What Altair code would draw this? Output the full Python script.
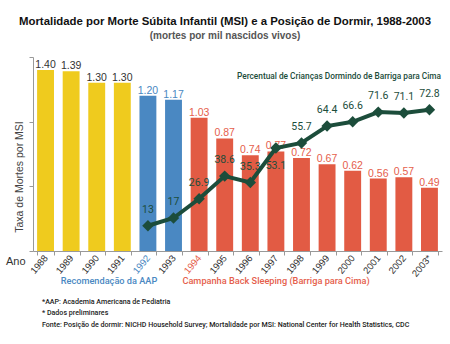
import altair as alt
import pandas as pd

years = ["1988", "1989", "1990", "1991", "1992", "1993", "1994", "1995",
         "1996", "1997", "1998", "1999", "2000", "2001", "2002", "2003*"]
rates = [1.40, 1.39, 1.30, 1.30, 1.20, 1.17, 1.03, 0.87,
         0.74, 0.77, 0.72, 0.67, 0.62, 0.56, 0.57, 0.49]
groups = ["antes"] * 4 + ["aap"] * 2 + ["campanha"] * 10
pct_years = years[4:]
pct_values = [13, 17, 26.9, 38.6, 35.3, 53.1, 55.7, 64.4, 66.6, 71.6, 71.1, 72.8]

group_domain = ["antes", "aap", "campanha"]
bar_colors = ["#EFCB1E", "#4A88C2", "#E25B44"]
label_colors = ["#333333", "#4A88C2", "#E5604C"]
GREEN = "#1C4D3B"
NARROW = "Roboto, sans-serif"
SANS = "Liberation Sans, Arial, sans-serif"

bars_df = pd.DataFrame({"ano": years, "taxa": rates, "grupo": groups})
pct_df = pd.DataFrame({"ano": pct_years, "pct": pct_values})

xenc = alt.X("ano:N", sort=years,
             scale=alt.Scale(paddingInner=0.34, paddingOuter=0.16),
             axis=alt.Axis(title=None, labelAngle=-50, labelFont=SANS, labelFontSize=9.5,
                           labelColor=alt.ExprRef(expr="datum.value == '1992' ? '#4A88C2' : (datum.value == '1994' ? '#E5604C' : '#333333')"),
                           domainColor="#999999", tickColor="#999999", tickSize=4,
                           tickBand="extent", labelPadding=1))

bars = alt.Chart(bars_df).mark_bar().encode(
    x=xenc,
    y=alt.Y("taxa:Q", scale=alt.Scale(domain=[0, 1.5], nice=False),
            axis=alt.Axis(title=None, labels=False, values=[0, 0.5, 1.0, 1.5], grid=False,
                          domainColor="#999999", tickColor="#999999", tickSize=4)),
    color=alt.Color("grupo:N", scale=alt.Scale(domain=group_domain, range=bar_colors), legend=None),
)

bar_labels = alt.Chart(bars_df).mark_text(dy=-5, font=SANS, fontSize=10.5).encode(
    x=alt.X("ano:N", sort=years),
    y=alt.Y("taxa:Q"),
    text=alt.Text("taxa:Q", format=".2f"),
    color=alt.Color("grupo:N", scale=alt.Scale(domain=group_domain, range=label_colors), legend=None),
)

bar_layer = alt.layer(bars, bar_labels).resolve_scale(color="independent")

yp = alt.Y("pct:Q", scale=alt.Scale(domain=[0, 100], nice=False), axis=None)
line = alt.Chart(pct_df).mark_line(color=GREEN, strokeWidth=4).encode(
    x=alt.X("ano:N", sort=years), y=yp)
points = alt.Chart(pct_df).mark_point(shape="diamond", filled=True, size=130, color=GREEN, opacity=1).encode(
    x=alt.X("ano:N", sort=years), y=yp)
pct_labels_up = alt.Chart(pct_df).transform_filter("datum.pct != 53.1").mark_text(
    dy=-16, font=NARROW, fontSize=10.5, color=GREEN).encode(
    x=alt.X("ano:N", sort=years), y=yp, text="pct:Q")
pct_labels_down = alt.Chart(pct_df).transform_filter("datum.pct == 53.1").mark_text(
    dy=18, font=NARROW, fontSize=10.5, color=GREEN).encode(
    x=alt.X("ano:N", sort=years), y=yp, text="pct:Q")

line_layer = alt.layer(line, points, pct_labels_up, pct_labels_down)

one = alt.Data(values=[{}])

def note(text, x, y, size, color, font, weight="normal", align="center", angle=0):
    return alt.Chart(one).mark_text(text=text, fontSize=size, color=color, font=font,
                                    fontWeight=weight, align=align, baseline="middle",
                                    angle=angle).encode(x=alt.value(x), y=alt.value(y))

notes = [
    note("Mortalidade por Morte Súbita Infantil (MSI) e a Posição de Dormir, 1988-2003",
         192, -35, 11.4, "#111111", SANS, "bold"),
    note("(mortes por mil nascidos vivos)", 192, -21, 10, "#555555", SANS, "bold"),
    note("Taxa de Mortes por MSI", -13, 120, 10.5, "#444444", SANS, angle=270),
    note("Ano", -27, 205, 11, "#333333", SANS, align="left"),
    note("Percentual de Crianças Dormindo de Barriga para Cima", 306, 20, 8.3, GREEN, NARROW, 500),
    note("Recomendação da AAP", 76, 224, 9.2, "#4A88C2", NARROW, 500),
    note("Campanha Back Sleeping (Barriga para Cima)", 243, 224, 9.2, "#E5604C", NARROW, 500),
    note("*AAP: Academia Americana de Pediatria", 9, 245, 7.1, "#222222", NARROW, 500, align="left"),
    note("* Dados preliminares", 9, 256, 7.1, "#222222", NARROW, 500, align="left"),
    note("Fonte: Posição de dormir: NICHD Household Survey; Mortalidade por MSI: National Center for Health Statistics, CDC",
         9, 268, 7.1, "#222222", NARROW, 500, align="left"),
]

chart = alt.layer(bar_layer, line_layer, *notes).resolve_scale(y="independent", color="independent").properties(
    width=409, height=194,
    autosize=alt.AutoSizeParams(type="none"),
    padding={"left": 33, "top": 57, "right": 8, "bottom": 93},
    background="white",
).configure_view(stroke=None)

chart.save("out.html", embed_options={"renderer": "svg", "actions": False})
